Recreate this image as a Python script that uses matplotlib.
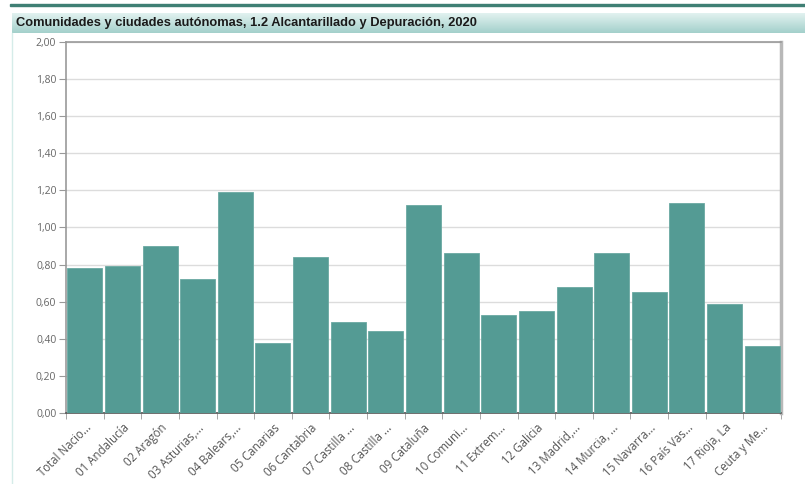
import numpy as np
import matplotlib
matplotlib.use("Agg")
from matplotlib import pyplot as plt
from matplotlib.patches import Rectangle
from matplotlib.ticker import MultipleLocator, FuncFormatter

# Indicador 1.2 Alcantarillado y Depuración por comunidad, 2020
categories = [
    "Total Nacio...", "01 Andalucía", "02 Aragón", "03 Asturias,...",
    "04 Balears,...", "05 Canarias", "06 Cantabria", "07 Castilla ...",
    "08 Castilla ...", "09 Cataluña", "10 Comuni...", "11 Extrem...",
    "12 Galicia", "13 Madrid,...", "14 Murcia, ...", "15 Navarra...",
    "16 País Vas...", "17 Rioja, La", "Ceuta y Me...",
]
values = [0.78, 0.79, 0.90, 0.72, 1.19, 0.38, 0.84, 0.49, 0.44, 1.12,
          0.86, 0.53, 0.55, 0.68, 0.86, 0.65, 1.13, 0.59, 0.36]
title = "Comunidades y ciudades autónomas, 1.2 Alcantarillado y Depuración, 2020"

W, H = 805, 484
fig = plt.figure(figsize=(W / 100, H / 100), dpi=100)
fig.patch.set_facecolor("white")

# header strip and title bar
fig.patches.append(Rectangle((10 / W, 1 - 6 / H), 1, 2.5 / H, transform=fig.transFigure,
                             color="#3f7f74", zorder=0))
bar_ax = fig.add_axes([12 / W, 1 - 33 / H, 1 - 12 / W, 20 / H])
grad = np.linspace(0, 1, 64).reshape(-1, 1)
cmap = matplotlib.colors.LinearSegmentedColormap.from_list("hdr", ["#e2f2f0", "#a3d0cb"])
bar_ax.imshow(grad, aspect="auto", cmap=cmap, extent=[0, 1, 0, 1])
bar_ax.set_axis_off()
bar_ax.text(0.005, 0.5, title, ha="left", va="center", fontsize=9.3, fontweight="bold",
            family="Liberation Sans", color="#1a1a1a", transform=bar_ax.transAxes)

# faint panel border on the left
fig.add_artist(plt.Line2D([12 / W, 12 / W], [0, 1 - 33 / H], transform=fig.transFigure,
                          color="#d5ece9", lw=1))

ax = fig.add_axes([66 / W, 1 - 413 / H, 715 / W, 371 / H])
x = np.arange(len(categories))
ax.bar(x, values, width=0.93, color="#549b94", edgecolor="#6aa9a2", linewidth=0.6, zorder=3)

ax.set_xlim(-0.5, len(categories) - 0.5)
ax.set_ylim(0, 2.0)
ax.yaxis.set_major_locator(MultipleLocator(0.2))
ax.yaxis.set_major_formatter(FuncFormatter(lambda v, p: f"{v:.2f}".replace(".", ",")))
ax.grid(axis="y", color="#dcdcdc", lw=1, zorder=0)

ax.set_xticks(x)
ax.set_xticklabels(categories, rotation=45, ha="right", rotation_mode="anchor",
                   fontsize=8.3, family="Open Sans", color="#555555")
ax.set_xticks(np.arange(len(categories) + 1) - 0.5, minor=True)
ax.tick_params(axis="x", which="major", length=0, pad=6)
ax.tick_params(axis="x", which="minor", length=4, color="#999999")
ax.tick_params(axis="y", length=5, color="#999999", labelsize=7.5, labelcolor="#666666", pad=2)
for lab in ax.get_yticklabels():
    lab.set_family("Open Sans")

for side in ["left", "top", "right"]:
    ax.spines[side].set_color("#999999")
    ax.spines[side].set_linewidth(1.2)
ax.spines["right"].set_linewidth(2.5)
ax.spines["right"].set_color("#b8b8b8")
ax.spines["bottom"].set_color("#555555")
ax.spines["bottom"].set_linewidth(1.2)

fig.savefig("out.png", dpi=100)
